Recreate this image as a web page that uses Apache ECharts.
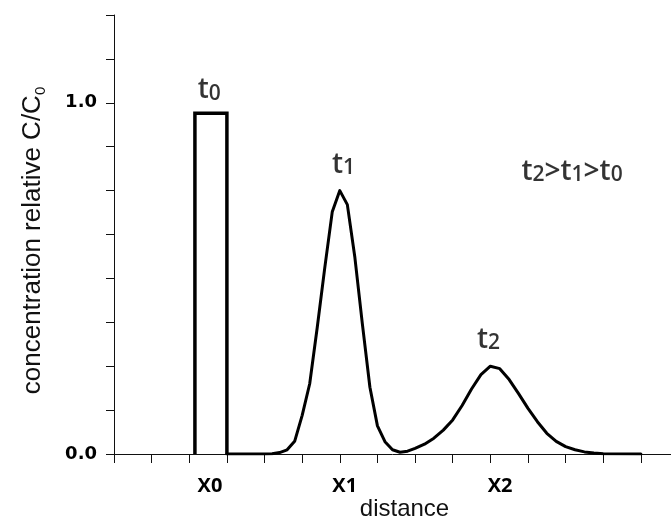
<!DOCTYPE html>
<html>
<head>
<meta charset="utf-8">
<script src="https://cdn.jsdelivr.net/npm/echarts@6/dist/echarts.min.js"></script>
<style>html,body{margin:0;padding:0;background:#fff}#c{width:671px;height:517px}</style>
</head>
<body>
<div id="c"></div>
<script>
// ---- data ----
const pulseX = [2.15, 2.15, 3.0, 3.0];
const pulseY = [0, 0.97, 0.97, 0];
const curveX = [3.0, 4.0, 4.2, 4.4, 4.6, 4.8, 5.0, 5.2, 5.4, 5.6, 5.8, 6.0, 6.2, 6.4, 6.6, 6.8, 7.0, 7.2, 7.4, 7.6, 7.8, 8.0, 8.25, 8.5, 8.75, 9.0, 9.25, 9.5, 9.75, 10.0, 10.25, 10.5, 10.75, 11.0, 11.25, 11.5, 11.75, 12.0, 12.25, 12.5, 12.75, 13.0, 14.0];
const curveY = [0, 0, 0.001, 0.004, 0.012, 0.036, 0.11, 0.2, 0.36, 0.53, 0.69, 0.75, 0.71, 0.56, 0.37, 0.19, 0.08, 0.035, 0.012, 0.005, 0.008, 0.016, 0.028, 0.045, 0.068, 0.097, 0.138, 0.185, 0.226, 0.25, 0.243, 0.212, 0.172, 0.13, 0.092, 0.059, 0.036, 0.021, 0.012, 0.006, 0.003, 0.001, 0];
const xTickValues = [0, 1, 2, 3, 4, 5, 6, 7, 8, 9, 10, 11, 12, 13, 14];
const xLabelValues = [2.55, 6.13, 10.26];
const xLabelTexts = ['X0', 'X1', 'X2'];
const yLabelValues = [0, 1];
const annoTexts = ['t0', 't1', 't2', 't2>t1>t0'];
const annoX = [2.53, 6.1, 9.95, 12.17];
const annoY = [1.036, 0.823, 0.325, 0.803];

const zip = (a, b) => a.map((v, i) => [v, b[i]]);

const chart = echarts.init(document.getElementById('c'), null, {renderer: 'canvas'});
chart.setOption({
  animation: false,
  backgroundColor: '#fff',
  grid: {left: 114, right: 0, top: 15, bottom: 63, containLabel: false, outerBoundsMode: 'none'},
  xAxis: {
    type: 'value', min: 0, max: 14.8,
    name: 'distance', nameLocation: 'middle', nameGap: 43, nameMoveOverlap: false,
    nameTextStyle: {fontFamily: 'Liberation Sans', fontSize: 24, color: '#111', padding: [0, 0, 0, 24]},
    axisLine: {show: true, onZero: false, lineStyle: {color: '#111', width: 1}},
    axisTick: {show: true, customValues: xTickValues, length: 9, lineStyle: {color: '#111', width: 1}},
    axisLabel: {
      show: true, customValues: xLabelValues, margin: 22,
      fontFamily: 'Open Sans', fontWeight: 'bold', fontSize: 20, color: '#000',
      formatter: v => { const i = xLabelValues.findIndex(x => Math.abs(x - v) < 1e-6); return i >= 0 ? xLabelTexts[i] : ''; }
    },
    splitLine: {show: false}
  },
  yAxis: {
    type: 'value', min: 0, max: 1.25, interval: 0.125,
    name: 'concentration relative C/C{sub|0}', nameLocation: 'middle', nameGap: 66, nameRotate: 90,
    nameTextStyle: {
      fontFamily: 'Liberation Sans', fontSize: 26, color: '#111', padding: [0, 12, 0, 0],
      rich: {sub: {fontFamily: 'Liberation Sans', fontSize: 15, color: '#111', verticalAlign: 'top', padding: [15, 0, 0, 0]}}
    },
    axisLine: {show: true, lineStyle: {color: '#111', width: 1}},
    axisTick: {show: true, length: 8, lineStyle: {color: '#111', width: 1}},
    axisLabel: {
      show: true, margin: 17, fontFamily: 'DejaVu Sans', fontWeight: 'bold', fontSize: 18, color: '#000',
      formatter: v => yLabelValues.some(y => Math.abs(y - v) < 1e-9) ? v.toFixed(1) : ''
    },
    splitLine: {show: false}
  },
  series: [
    {
      type: 'line', data: zip(pulseX, pulseY), symbol: 'none', silent: true,
      lineStyle: {color: '#000', width: 3.5, join: 'miter', cap: 'butt'}, z: 3
    },
    {
      type: 'line', data: zip(curveX, curveY), symbol: 'none', silent: true,
      lineStyle: {color: '#000', width: 3, join: 'round', cap: 'round'}, z: 3
    },
    {
      type: 'scatter', symbolSize: 0, silent: true, z: 4,
      data: annoTexts.map((t, i) => ({value: [annoX[i], annoY[i]], name: t})),
      label: {
        show: true, position: 'inside', color: '#000',
        formatter: p => p.name.replace(/[^0-9]+|[0-9]/g, s => /[0-9]/.test(s) ? '{d|' + s + '}' : '{t|' + s + '}'),
        rich: {
          t: {fontFamily: 'Open Sans', fontWeight: 600, fontSize: 28, color: '#000', verticalAlign: 'bottom'},
          d: {fontFamily: 'Open Sans', fontWeight: 600, fontSize: 21, color: '#000', verticalAlign: 'bottom'}
        }
      }
    }
  ]
});
</script>
</body>
</html>
